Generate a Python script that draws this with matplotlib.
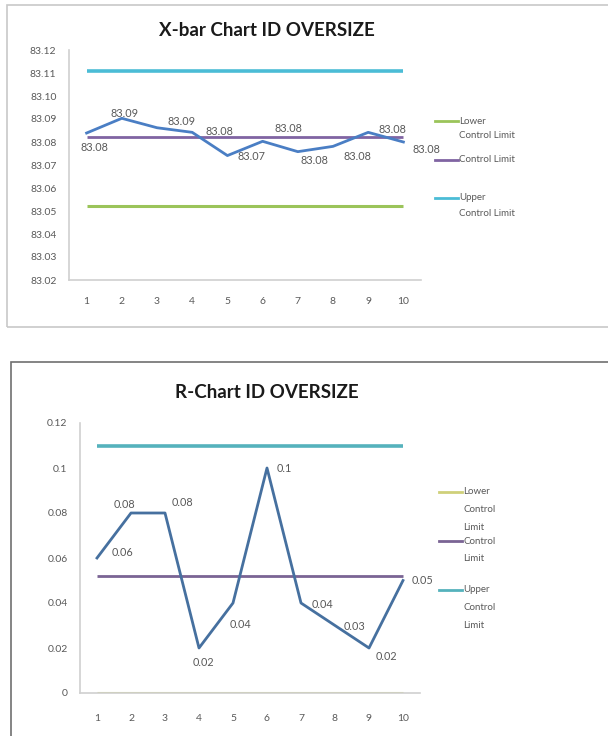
import numpy as np
import matplotlib.pyplot as plt
from matplotlib.patches import Rectangle
from matplotlib.lines import Line2D
from matplotlib.ticker import FuncFormatter

plt.rcParams['font.family'] = ['Lato', 'DejaVu Sans']

# subgroup numbers
samples = list(range(1, 11))

# X-bar chart (subgroup means)
xbar_means = [83.0839, 83.0903, 83.0862, 83.0842, 83.0741,
              83.0803, 83.0758, 83.0781, 83.0842, 83.0800]
xbar_lcl = 83.052
xbar_cl = 83.082
xbar_ucl = 83.111

# R chart (subgroup ranges)
r_ranges = [0.06, 0.08, 0.08, 0.02, 0.04, 0.10, 0.04, 0.03, 0.02, 0.05]
r_lcl = 0.0
r_cl = 0.052
r_ucl = 0.110

# legend entries
xbar_leg = ['Lower\nControl Limit', 'Control Limit', 'Upper\nControl Limit']
r_leg = ['Lower\nControl\nLimit', 'Control\nLimit', 'Upper\nControl\nLimit']

# data label offsets in pixels (dx, dy), positive dy is down
xbar_lbl_off = [(8, 14), (3, -5), (24, -6), (27, -1), (24, 1),
                (26, -13), (17, 9), (24, 10), (24, -3), (23, 7)]
r_lbl_off = [(25, -5), (-7, -9), (17, -10), (4, 15), (7, 21),
             (17, 1), (21, 2), (19, 1), (17, 9), (19, 0)]

W, H = 608, 736
fig = plt.figure(figsize=(W / 100, H / 100), dpi=100)
fig.patch.set_facecolor('white')


def px_rect(x0, y0, x1, y1):
    # pixel box (top-left origin) -> figure fraction [l, b, w, h]
    return [x0 / W, 1 - y1 / H, (x1 - x0) / W, (y1 - y0) / H]


def panel_border(x0, y0, x1, y1, color):
    l, b, w, h = px_rect(x0, y0, x1, y1)
    fig.patches.append(Rectangle((l, b), w, h, transform=fig.transFigure,
                                 fill=False, edgecolor=color, lw=1.2))


def side_legend(labels, colors, x0, ys, line_gap):
    # Excel-style legend: short line next to the first text row
    for lab, c, y in zip(labels, colors, ys):
        fig.lines.append(Line2D([x0 / W, (x0 + 23) / W], [1 - y / H] * 2,
                                transform=fig.transFigure, color=c, lw=2))
        for i, row in enumerate(lab.split('\n')):
            fig.text((x0 + 24) / W, 1 - (y + i * line_gap) / H, row,
                     ha='left', va='center', fontsize=7, color='#595959')


def control_chart(ax, values, lcl, cl, ucl, offsets, fmt, cols):
    x = np.array(samples)
    ax.plot([x[0], x[-1]], [lcl, lcl], color=cols[0], lw=2.2,
            solid_capstyle='butt')
    ax.plot([x[0], x[-1]], [cl, cl], color=cols[1], lw=2.0,
            solid_capstyle='butt')
    ax.plot([x[0], x[-1]], [ucl, ucl], color=cols[2], lw=2.6,
            solid_capstyle='butt')
    ax.plot(x, values, color=cols[3], lw=2.0, zorder=5)
    for xi, v, (dx, dy) in zip(x, values, offsets):
        ax.annotate(fmt(v), (xi, v), xytext=(dx * 0.72, -dy * 0.72),
                    textcoords='offset points', ha='center', va='center',
                    fontsize=7.8, color='#595959')
    ax.set_xlim(0.5, 10.5)
    ax.set_xticks(x)
    for s in ['top', 'right']:
        ax.spines[s].set_visible(False)
    for s in ['left', 'bottom']:
        ax.spines[s].set_color('#d0d0d0')
        ax.spines[s].set_linewidth(1.2)
    ax.tick_params(length=0, labelsize=7.5, colors='#595959', pad=12)


# --- X-bar chart ---
panel_border(7, 5, 640, 327, '#c8c8c8')
ax1 = fig.add_axes(px_rect(69, 50, 421, 280))
xbar_cols = ['#9bc45a', '#8064a2', '#4bbcd6', '#4a7ec4']
control_chart(ax1, xbar_means, xbar_lcl, xbar_cl, xbar_ucl, xbar_lbl_off,
              lambda v: '%.2f' % v, xbar_cols)
ax1.set_ylim(83.02, 83.12)
ax1.set_yticks(np.linspace(83.02, 83.12, 11))
ax1.yaxis.set_major_formatter(FuncFormatter(lambda v, p: '%.2f' % v))
ax1.tick_params(axis='y', pad=9)
fig.text(267 / W, 1 - 30 / H, 'X-bar Chart ID OVERSIZE', ha='center',
         va='center', fontsize=13.5, fontweight='bold', color='#1a1a1a')
side_legend(xbar_leg, xbar_cols[:3], 435, [121, 160, 198], 15)

# --- R chart ---
panel_border(11, 362, 640, 760, '#707070')
ax2 = fig.add_axes(px_rect(80, 423, 420, 693))
r_cols = ['#cfd07a', '#7a6494', '#55b2bc', '#46709f']
control_chart(ax2, r_ranges, r_lcl, r_cl, r_ucl, r_lbl_off,
              lambda v: '%g' % v, r_cols)
ax2.set_ylim(0, 0.12)
ax2.set_yticks(np.linspace(0, 0.12, 7))
ax2.yaxis.set_major_formatter(FuncFormatter(lambda v, p: '%g' % round(v, 2)))
ax2.tick_params(axis='y', pad=9)
ax2.tick_params(axis='x', pad=15)
fig.text(267 / W, 1 - 392 / H, 'R-Chart ID OVERSIZE', ha='center',
         va='center', fontsize=13.5, fontweight='bold', color='#1a1a1a')
side_legend(r_leg, r_cols[:3], 439, [492, 541, 590], 17.5)

fig.savefig('out.png', dpi=100)
